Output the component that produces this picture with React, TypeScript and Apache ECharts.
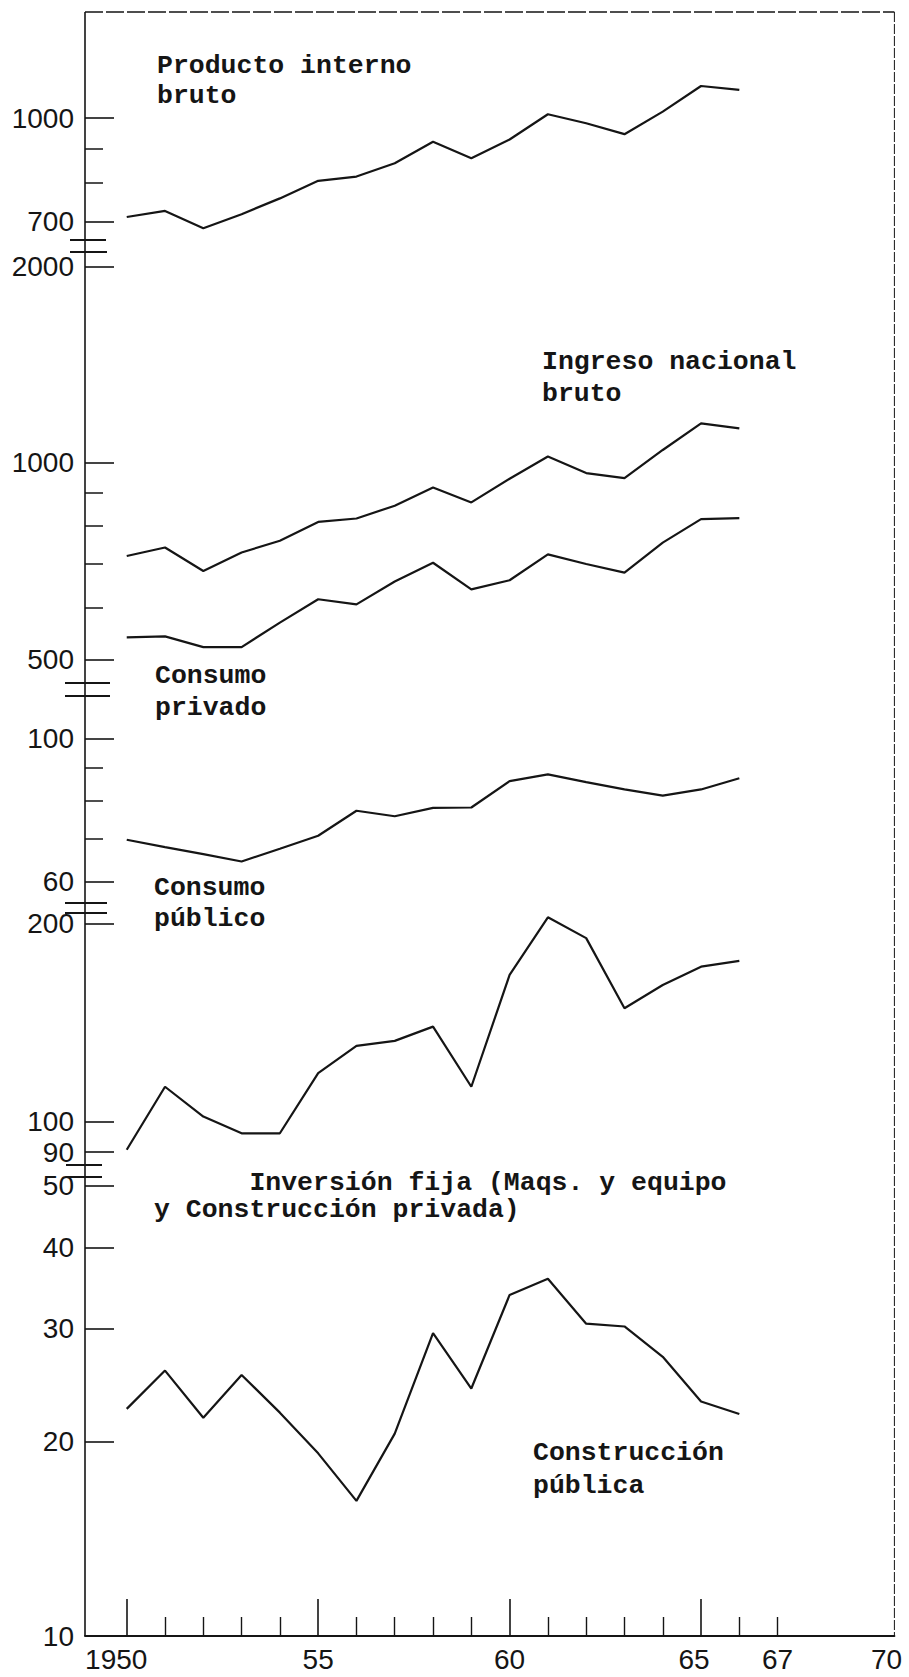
import React, { useEffect, useRef } from "react";
import * as echarts from "echarts";

// ---- data ----
const years = [1950, 1951, 1952, 1953, 1954, 1955, 1956, 1957, 1958, 1959, 1960, 1961, 1962, 1963, 1964, 1965, 1966];
const productoInterno = [712, 727, 685, 719, 759, 806, 818, 856, 922, 871, 929, 1013, 982, 946, 1022, 1116, 1101];
const ingresoNacional = [720, 742, 683, 729, 760, 812, 822, 860, 917, 870, 946, 1023, 965, 948, 1047, 1150, 1130];
const consumoPrivado = [540, 542, 522, 522, 569, 618, 607, 658, 703, 640, 661, 724, 700, 679, 755, 820, 823];
const consumoPublico = [69.7, 67.9, 66.2, 64.5, 67.5, 70.7, 77.3, 75.8, 78.1, 78.2, 85.9, 88.0, 85.6, 83.4, 81.6, 83.4, 86.8];
const inversionFija = [90.7, 113.1, 101.9, 96.1, 96.1, 118.6, 130.5, 132.8, 139.6, 113.1, 167.3, 204.7, 190.3, 148.9, 161.5, 172.2, 175.7];
const construccionPublica = [22.5, 25.8, 21.8, 25.4, 22.2, 19.2, 16.2, 20.6, 29.5, 24.2, 33.8, 35.8, 30.5, 30.2, 27.1, 23.1, 22.1];

// tick values per panel
const p1Labels = [700, 1000];
const p1Minor = [800, 900];
const p2Labels = [500, 1000, 2000];
const p2Minor = [600, 700, 800, 900];
const p3Labels = [60, 100];
const p3Minor = [70, 80, 90];
const p4Labels = [90, 100, 200];
const p4Minor: number[] = [];
const p5Labels = [10, 20, 30, 40, 50];
const p5Ticks = [20, 30, 40, 50];

const xLabelYears = [1950, 1955, 1960, 1965, 1967, 1970];
const xLabelTexts = ["1950", "55", "60", "65", "67", "70"];
const xMajorTicks = [1950, 1955, 1960, 1965];
const xMinorTicks = [1951, 1952, 1953, 1954, 1956, 1957, 1958, 1959, 1961, 1962, 1963, 1964, 1966, 1967];

// ---- layout ----
const X_MIN = 1948.91;
const X_MAX = 1970.05;
const GRID_LEFT = 85;
const GRID_RIGHT = 14.6;
const RIGHT_EDGE = 909 - GRID_RIGHT;
const INK = "#151515";
const TEXT_FONT = "Liberation Mono";
const NUM_FONT = "Liberation Sans";

const panels = [
  { top: 12, bottom: 240, min: 658.0, max: 1438.6, labels: p1Labels, ticks: p1Labels, minor: p1Minor },
  { top: 252, bottom: 683, min: 459.8, max: 2106.6, labels: p2Labels, ticks: p2Labels, minor: p2Minor },
  { top: 696, bottom: 903, min: 55.62, max: 116.4, labels: p3Labels, ticks: p3Labels, minor: p3Minor },
  { top: 913, bottom: 1165, min: 86.0, max: 207.8, labels: p4Labels, ticks: p4Labels, minor: p4Minor },
  { top: 1177, bottom: 1636, min: 10, max: 51.5, labels: p5Labels, ticks: p5Ticks, minor: [] as number[] },
];

const seriesDefs = [
  { name: "Producto interno bruto", values: productoInterno, panel: 0 },
  { name: "Ingreso nacional bruto", values: ingresoNacional, panel: 1 },
  { name: "Consumo privado", values: consumoPrivado, panel: 1 },
  { name: "Consumo público", values: consumoPublico, panel: 2 },
  { name: "Inversión fija", values: inversionFija, panel: 3 },
  { name: "Construcción pública", values: construccionPublica, panel: 4 },
];

const annotations = [
  { x: 157, y: 66, lh: 30, text: "Producto interno\nbruto" },
  { x: 542, y: 362, lh: 32, text: "Ingreso nacional\nbruto" },
  { x: 155, y: 676, lh: 32, text: "Consumo\nprivado" },
  { x: 154, y: 888, lh: 31, text: "Consumo\npúblico" },
  { x: 154, y: 1183, lh: 27, text: "      Inversión fija (Maqs. y equipo\ny Construcción privada)" },
  { x: 533, y: 1453, lh: 33, text: "Construcción\npública" },
];

const breaks = [
  { y: 240, x1: 70, x2: 106 },
  { y: 252, x1: 70, x2: 107 },
  { y: 683, x1: 65, x2: 110 },
  { y: 696, x1: 65, x2: 110 },
  { y: 903, x1: 65, x2: 107 },
  { y: 913, x1: 65, x2: 107 },
  { y: 1165, x1: 66, x2: 102 },
  { y: 1177, x1: 66, x2: 102 },
];

function buildOption() {
  const grid = panels.map((p) => ({
    left: GRID_LEFT,
    right: GRID_RIGHT,
    top: p.top,
    height: p.bottom - p.top,
    containLabel: false,
  }));

  const richBase = { fontFamily: NUM_FONT, fontSize: 28, color: INK };
  const xAxis: any[] = panels.map((p, i) => {
    const last = i === panels.length - 1;
    return {
      type: "value",
      gridIndex: i,
      min: X_MIN,
      max: X_MAX,
      position: "bottom",
      show: last,
      axisLine: { show: last, lineStyle: { color: INK, width: 2 } },
      axisTick: {
        show: last,
        inside: true,
        length: 37,
        customValues: xMajorTicks,
        lineStyle: { color: INK, width: 1.6 },
      },
      axisLabel: {
        show: last,
        customValues: xLabelYears,
        margin: 9,
        color: INK,
        fontFamily: NUM_FONT,
        fontSize: 28,
        formatter: (v: number) => {
          const idx = xLabelYears.indexOf(Math.round(v));
          const t = idx >= 0 ? xLabelTexts[idx] : "";
          if (t === "1950") return "{a|" + t + "}";
          if (t === "65") return "{b|" + t + "}";
          if (t === "70") return "{c|" + t + "}";
          return t;
        },
        rich: {
          a: { ...richBase, padding: [0, 21, 0, 0] },
          b: { ...richBase, padding: [0, 14, 0, 0] },
          c: { ...richBase, padding: [0, 12, 0, 0] },
        },
      },
      splitLine: { show: false },
    };
  });
  // minor x ticks on the bottom panel
  xAxis.push({
    type: "value",
    gridIndex: panels.length - 1,
    min: X_MIN,
    max: X_MAX,
    position: "bottom",
    offset: 0,
    axisLine: { show: false },
    axisTick: {
      show: true,
      inside: true,
      length: 19,
      customValues: xMinorTicks,
      lineStyle: { color: INK, width: 1.4 },
    },
    axisLabel: { show: false },
    splitLine: { show: false },
  });

  const yAxis: any[] = [];
  panels.forEach((p, i) => {
    yAxis.push({
      type: "log",
      logBase: 10,
      gridIndex: i,
      min: p.min,
      max: p.max,
      position: "left",
      axisLine: { show: false },
      axisTick: {
        show: true,
        inside: true,
        length: 29,
        customValues: p.ticks,
        lineStyle: { color: INK, width: 1.6 },
      },
      axisLabel: {
        show: true,
        customValues: p.labels,
        margin: 11,
        color: INK,
        fontFamily: NUM_FONT,
        fontSize: 28,
        formatter: (v: number) => String(Math.round(v)),
      },
      splitLine: { show: false },
    });
    yAxis.push({
      type: "log",
      logBase: 10,
      gridIndex: i,
      min: p.min,
      max: p.max,
      position: "left",
      offset: 0,
      axisLine: { show: false },
      axisTick: {
        show: p.minor.length > 0,
        inside: true,
        length: 18,
        customValues: p.minor.length > 0 ? p.minor : [p.min],
        lineStyle: { color: INK, width: 1.5 },
      },
      axisLabel: { show: false },
      splitLine: { show: false },
    });
  });

  const series = seriesDefs.map((s) => ({
    name: s.name,
    type: "line",
    xAxisIndex: s.panel,
    yAxisIndex: s.panel * 2,
    data: years.map((yr, k) => [yr, s.values[k]]),
    symbol: "none",
    silent: true,
    lineStyle: { color: INK, width: 2.2 },
    z: 3,
  }));

  const line = (x1: number, y1: number, x2: number, y2: number, w: number, dash?: number[]) => ({
    type: "line",
    silent: true,
    shape: { x1, y1, x2, y2 },
    style: { stroke: INK, lineWidth: w, lineDash: dash },
  });

  const graphic: any[] = [];
  // continuous left axis, top and right border
  graphic.push(line(GRID_LEFT, 12, GRID_LEFT, 1636, 1.6));
  graphic.push(line(GRID_LEFT, 12, RIGHT_EDGE, 12, 1.3, [18, 3]));
  graphic.push(line(RIGHT_EDGE, 12, RIGHT_EDGE, 1636, 1, [10, 2]));
  breaks.forEach((b) => graphic.push(line(b.x1, b.y, b.x2, b.y, 2)));
  annotations.forEach((a) => {
    graphic.push({
      type: "text",
      silent: true,
      x: a.x,
      y: a.y - a.lh / 2,
      style: {
        text: a.text,
        fontFamily: TEXT_FONT,
        fontSize: 26.5,
        fontWeight: "bold",
        lineHeight: a.lh,
        fill: INK,
        align: "left",
        verticalAlign: "top",
      },
      z: 10,
    });
  });

  return {
    animation: false,
    backgroundColor: "#ffffff",
    grid,
    xAxis,
    yAxis,
    series,
    graphic,
  };
}

export default function App() {
  const ref = useRef<HTMLDivElement>(null);
  useEffect(() => {
    if (!ref.current) return;
    const chart = echarts.init(ref.current, null, { renderer: "svg" });
    chart.setOption(buildOption() as any);
    return () => chart.dispose();
  }, []);
  return (
    <div
      ref={ref}
      style={{ position: "absolute", left: 0, top: 0, width: 909, height: 1677, background: "#fff" }}
    />
  );
}
